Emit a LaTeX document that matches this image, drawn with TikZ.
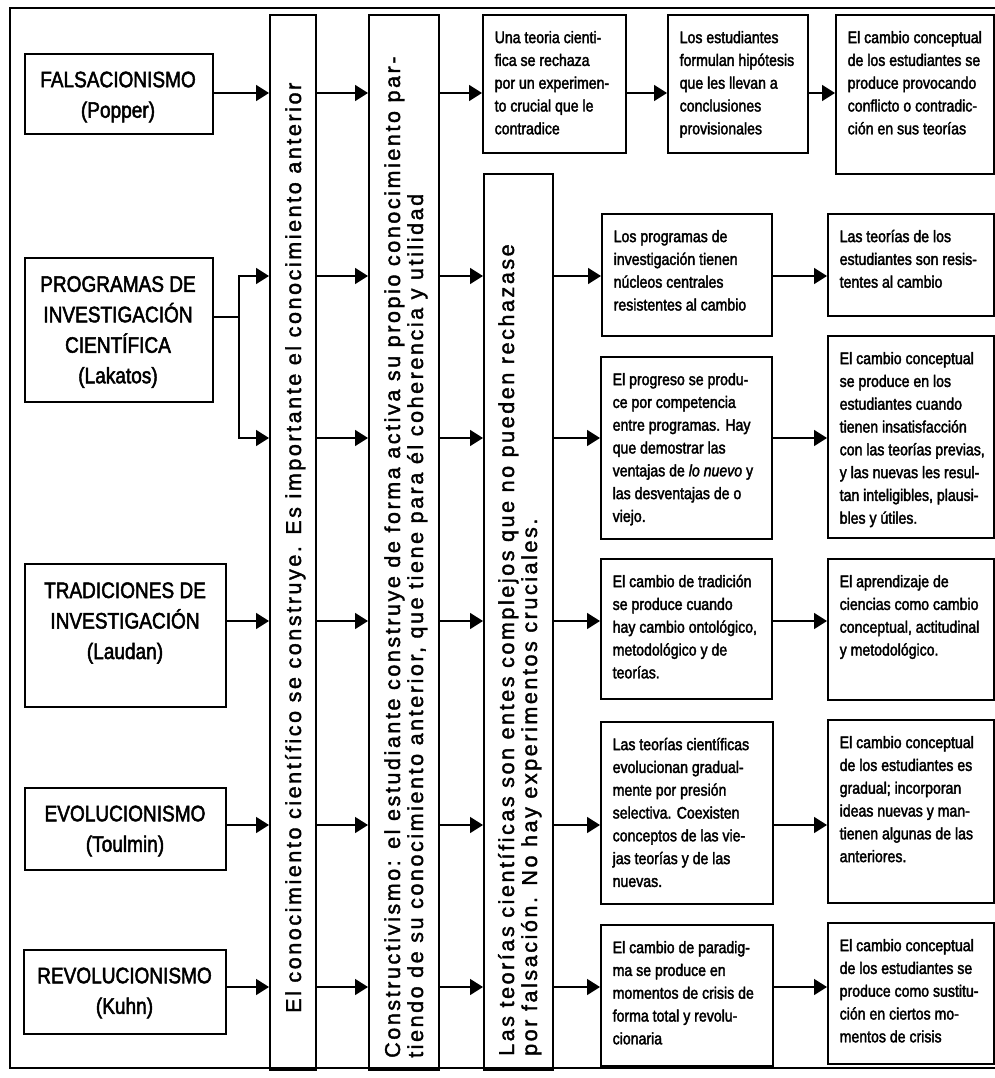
\documentclass[tikz,border=0pt]{standalone}
\usepackage{fontspec}
\setmainfont{Liberation Sans}
\newfontfamily\narrowfont[FakeStretch=0.85,FakeBold=2.2]{Liberation Sans}
\newfontfamily\barfont[LetterSpace=12,FakeBold=1.8]{Liberation Sans}
\usetikzlibrary{arrows.meta}
\newcommand\firststrut{\rule{0pt}{16pt}}
\tikzset{
  lw/.style={line width=1.6pt},
  tbox/.style={draw, line width=1.6pt, inner sep=0pt},
  txt/.style={inner sep=0pt, align=left, font=\narrowfont\fontsize{16.6}{22.8}\selectfont},
  ltxt/.style={inner sep=0pt, align=center, font=\narrowfont\fontsize{22.4}{30.5}\selectfont},
  bartxt/.style={inner sep=0pt, align=left, rotate=90, anchor=base west, font=\barfont\fontsize{21.5}{23}\selectfont},
  arr/.style={-{Triangle[length=13pt,width=16pt]}, line width=1.6pt},
}
% empty box: name, x1, y1, x2, y2 (pixels, y downward)
\newcommand\bx[5]{%
  \node[tbox,anchor=north west,minimum width={#4pt-#2pt},minimum height={#5pt-#3pt}] (#1) at (#2,-#3) {};}
% text box with top-left text
\newcommand\tbx[6]{%
  \bx{#1}{#2}{#3}{#4}{#5}%
  \node[txt,anchor=north west] (#1t) at (#2+12.5,-#3-12.9) {\firststrut#6};}
% left box with centred text at (tx,ty)
\newcommand\lbx[8]{%
  \bx{#1}{#2}{#3}{#4}{#5}%
  \node[ltxt] (#1t) at (#6,-#7) {#8};}
\begin{document}
\begin{tikzpicture}[x=1pt,y=1pt]
\useasboundingbox (0,0) rectangle (995,-1078);
\fill[white] (0,0) rectangle (995,-1078);
% outer frame (open to the right)
\draw[lw] (995,-8) -- (10,-8) -- (10,-1068) -- (995,-1068);

% left boxes
\lbx{fals}{24}{53}{212}{133}{118}{97}{FALSACIONISMO\\(Popper)}
\lbx{prog}{24}{257}{212}{401}{118}{332}{PROGRAMAS DE\\INVESTIGACIÓN\\CIENTÍFICA\\(Lakatos)}
\lbx{trad}{24}{563}{225}{706}{125}{623}{TRADICIONES DE\\INVESTIGACIÓN\\(Laudan)}
\lbx{evol}{24}{787}{225}{869}{125}{831}{EVOLUCIONISMO\\(Toulmin)}
\lbx{revo}{23}{949}{225}{1033}{124.5}{993}{REVOLUCIONISMO\\(Kuhn)}

% vertical bars
\bx{B1}{269}{14}{315}{1069}
\bx{B2}{368}{14}{438}{1069}
\bx{B3}{483}{173}{552}{1069}
\node[bartxt] (B1t) at (301,-1013) {El conocimiento científico se construye. Es importante el conocimiento anterior};
\node[bartxt] (B2t) at (423,-1058) {Constructivismo: el estudiante construye de forma activa su propio conocimiento par-\\tiendo de su conocimiento anterior, que tiene para él coherencia y utilidad};
\node[bartxt] (B3t) at (537,-1056) {Las teorías científicas son entes complejos que no pueden rechazase\\por falsación. No hay experimentos cruciales.};

% top row
\tbx{T1}{482}{14}{625}{152}{Una teoria cienti-\\fica se rechaza\\por un experimen-\\to crucial que le\\contradice}
\tbx{T2}{667}{14}{807}{152}{Los estudiantes\\formulan hipótesis\\que les llevan a\\conclusiones\\provisionales}
\tbx{T3}{835}{14}{993}{173}{El cambio conceptual\\de los estudiantes se\\produce provocando\\conflicto o contradic-\\ción en sus teorías}

% middle column
\tbx{M1}{601}{213}{771}{335}{Los programas de\\investigación tienen\\núcleos centrales\\resistentes al cambio}
\tbx{M2}{600}{356}{771}{538}{El progreso se produ-\\ce por competencia\\entre programas. Hay\\que demostrar las\\ventajas de {\itshape lo nuevo} y\\las desventajas de o\\viejo.}
\tbx{M3}{600}{558}{771}{698}{El cambio de tradición\\se produce cuando\\hay cambio ontológico,\\metodológico y de\\teorías.}
\tbx{M4}{600}{721}{772}{903}{Las teorías científicas\\evolucionan gradual-\\mente por presión\\selectiva. Coexisten\\conceptos de las vie-\\jas teorías y de las\\nuevas.}
\tbx{M5}{600}{924}{772}{1065}{El cambio de paradig-\\ma se produce en\\momentos de crisis de\\forma total y revolu-\\cionaria}

% right column
\tbx{R1}{827}{213}{993}{315}{Las teorías de los\\estudiantes son resis-\\tentes al cambio}
\tbx{R2}{827}{335}{993}{537}{El cambio conceptual\\se produce en los\\estudiantes cuando\\tienen insatisfacción\\con las teorías previas,\\y las nuevas les resul-\\tan inteligibles, plausi-\\bles y útiles.}
\tbx{R3}{827}{558}{993}{699}{El aprendizaje de\\ciencias como cambio\\conceptual, actitudinal\\y metodológico.}
\tbx{R4}{827}{719}{993}{902}{El cambio conceptual\\de los estudiantes es\\gradual; incorporan\\ideas nuevas y man-\\tienen algunas de las\\anteriores.}
\tbx{R5}{827}{922}{993}{1063}{El cambio conceptual\\de los estudiantes se\\produce como sustitu-\\ción en ciertos mo-\\mentos de crisis}

% row levels
\coordinate (r1) at (0,-93);
\coordinate (r2) at (0,-276);
\coordinate (r3) at (0,-438);
\coordinate (r4) at (0,-621);
\coordinate (r5) at (0,-825);
\coordinate (r6) at (0,-987);

% left boxes to first bar
\draw[arr] (fals.east |- r1) -- (B1.west |- r1);
\coordinate (pj) at (239,-317);
\draw[lw] (prog.east |- pj) -- (pj);
\draw[arr] (pj) -- (pj |- r2) -- (B1.west |- r2);
\draw[arr] (pj) -- (pj |- r3) -- (B1.west |- r3);
\draw[arr] (trad.east |- r4) -- (B1.west |- r4);
\draw[arr] (evol.east |- r5) -- (B1.west |- r5);
\draw[arr] (revo.east |- r6) -- (B1.west |- r6);

% bar to bar
\foreach \r in {r1,r2,r3,r4,r5,r6}
  \draw[arr] (B1.east |- \r) -- (B2.west |- \r);
\draw[arr] (B2.east |- r1) -- (T1.west |- r1);
\foreach \r in {r2,r3,r4,r5,r6}
  \draw[arr] (B2.east |- \r) -- (B3.west |- \r);

% top row
\draw[arr] (T1.east |- r1) -- (T2.west |- r1);
\draw[arr] (T2.east |- r1) -- (T3.west |- r1);

% third bar to middle, middle to right
\foreach \m/\rr/\r in {M1/R1/r2, M2/R2/r3, M3/R3/r4, M4/R4/r5, M5/R5/r6}{
  \draw[arr] (B3.east |- \r) -- (\m.west |- \r);
  \draw[arr] (\m.east |- \r) -- (\rr.west |- \r);
}
\end{tikzpicture}
\end{document}
